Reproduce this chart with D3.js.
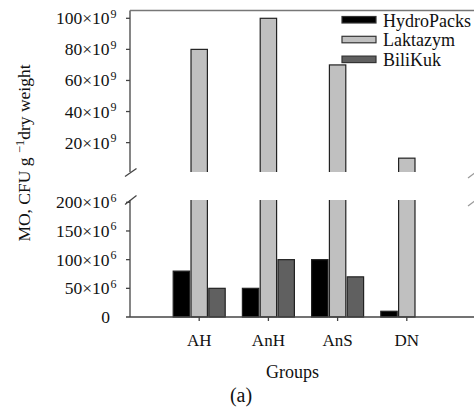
<!DOCTYPE html>
<html><head><meta charset="utf-8">
<script src="https://cdn.jsdelivr.net/npm/d3@7"></script>
<style>body{margin:0;background:#fff}svg{display:block}text{font-family:"Liberation Serif","Times New Roman",serif;fill:#111}</style>
</head><body><svg id="c" width="474" height="411"></svg>
<script>
const categories = ["AH", "AnH", "AnS", "DN"];
const series = ["HydroPacks", "Laktazym", "BiliKuk"];
const hydroPacks = [80e6, 50e6, 100e6, 10e6];
const laktazym = [80e9, 100e9, 70e9, 10e9];
const biliKuk = [50e6, 100e6, 70e6, 0];
const upperTicks = [20e9, 40e9, 60e9, 80e9, 100e9];
const upperTickLabels = ["20×10", "40×10", "60×10", "80×10", "100×10"];
const lowerTicks = [0, 50e6, 100e6, 150e6, 200e6];
const lowerTickLabels = ["0", "50×10", "100×10", "150×10", "200×10"];
const colors = {HydroPacks: "#000000", Laktazym: "#c0c0c0", BiliKuk: "#606060"};
const values = {HydroPacks: hydroPacks, Laktazym: laktazym, BiliKuk: biliKuk};

const svg = d3.select("#c");
const xL = 130, xR = 476;
const upTop = 10.5, upBot = 172, loTop = 200, loBot = 317;

const x = d3.scalePoint().domain(categories).range([xL, xR]).padding(1);
const xs = d3.scaleBand().domain(series).range([-26, 26]).paddingInner(0.08);
const yU = d3.scaleLinear().domain([0, 100e9]).range([173.7, 18.3]);
const yL = d3.scaleLinear().domain([0, 200e6]).range([loBot, 202.3]);

const defs = svg.append("defs");
defs.append("clipPath").attr("id", "cu").append("rect").attr("x", 0).attr("y", upTop).attr("width", 474).attr("height", upBot - upTop);
defs.append("clipPath").attr("id", "cl").append("rect").attr("x", 0).attr("y", loTop).attr("width", 474).attr("height", loBot - loTop + 1);

const data = [];
categories.forEach((c, i) => series.forEach(s => data.push({c, s, v: values[s][i]})));

const gU = svg.append("g").attr("clip-path", "url(#cu)");
gU.selectAll("rect").data(data.filter(d => d.v >= 5e9)).join("rect")
  .attr("x", d => x(d.c) + xs(d.s)).attr("width", xs.bandwidth())
  .attr("y", d => yU(d.v)).attr("height", d => upBot + 10 - yU(d.v))
  .attr("fill", d => colors[d.s]).attr("stroke", "#222").attr("stroke-width", 1.2);

const gL = svg.append("g").attr("clip-path", "url(#cl)");
gL.selectAll("rect").data(data.filter(d => d.v > 0)).join("rect")
  .attr("x", d => x(d.c) + xs(d.s)).attr("width", xs.bandwidth())
  .attr("y", d => Math.max(yL(d.v), loTop - 10)).attr("height", d => loBot - Math.max(yL(d.v), loTop - 10))
  .attr("fill", d => colors[d.s]).attr("stroke", "#222").attr("stroke-width", 1.2);

const ax = svg.append("g").attr("stroke", "#444").attr("stroke-width", 1.3).attr("fill", "none");
ax.append("line").attr("x1", xL).attr("x2", xL).attr("y1", upTop).attr("y2", upBot);
ax.append("line").attr("x1", xL).attr("x2", xL).attr("y1", loTop).attr("y2", loBot);
ax.append("line").attr("x1", xL).attr("x2", 474).attr("y1", upTop).attr("y2", upTop).attr("stroke", "#777");
ax.append("line").attr("x1", xL - 4).attr("x2", 474).attr("y1", loBot).attr("y2", loBot);
ax.append("line").attr("x1", 125).attr("y1", 176.5).attr("x2", 136.5).attr("y2", 168.5);
ax.append("line").attr("x1", 125).attr("y1", 204.5).attr("x2", 136.5).attr("y2", 195.5);
ax.append("line").attr("x1", 468).attr("y1", 178).attr("x2", 476).attr("y2", 172).attr("stroke", "#999");
ax.append("line").attr("x1", 468).attr("y1", 206).attr("x2", 476).attr("y2", 200).attr("stroke", "#999");

function ticks(scale, vals, labels, sup) {
  const g = svg.append("g");
  vals.forEach((v, i) => {
    const y = scale(v);
    if (v !== 0) g.append("line").attr("x1", xL - 4).attr("x2", xL).attr("y1", y).attr("y2", y).attr("stroke", "#444").attr("stroke-width", 1.3);
    g.append("text").attr("x", v === 0 ? 110 : 109.5).attr("y", y + 6).attr("text-anchor", "end").attr("font-size", 17.5).text(labels[i]);
    if (v !== 0) g.append("text").attr("x", 110.5).attr("y", y - 0.5).attr("font-size", 12).text(sup);
  });
}
ticks(yU, upperTicks, upperTickLabels, "9");
ticks(yL, lowerTicks, lowerTickLabels, "6");

const xa = svg.append("g");
categories.forEach(c => {
  xa.append("line").attr("x1", x(c)).attr("x2", x(c)).attr("y1", loBot).attr("y2", loBot + 4).attr("stroke", "#444").attr("stroke-width", 1.3);
  xa.append("text").attr("x", x(c)).attr("y", 346).attr("text-anchor", "middle").attr("font-size", 17).text(c);
});

svg.append("text").attr("x", 292.5).attr("y", 378).attr("text-anchor", "middle").attr("font-size", 18).text("Groups");
svg.append("text").attr("x", 241).attr("y", 402).attr("text-anchor", "middle").attr("font-size", 20).text("(a)");
const yt = svg.append("text").attr("transform", "translate(30,153) rotate(-90)").attr("text-anchor", "middle").attr("font-size", 17.5);
yt.append("tspan").text("MO, CFU g ");
yt.append("tspan").attr("dy", -6).attr("font-size", 12.5).text("−1");
yt.append("tspan").attr("dy", 6).text("dry weight");

const lg = svg.append("g");
series.forEach((s, i) => {
  lg.append("rect").attr("x", 342).attr("y", 16.5 + i * 19.8).attr("width", 34).attr("height", 6.5)
    .attr("fill", colors[s]).attr("stroke", "#333").attr("stroke-width", 1.2);
  lg.append("text").attr("x", 383).attr("y", 26.5 + i * 19.8).attr("font-size", 18).text(s);
});
</script></body></html>
